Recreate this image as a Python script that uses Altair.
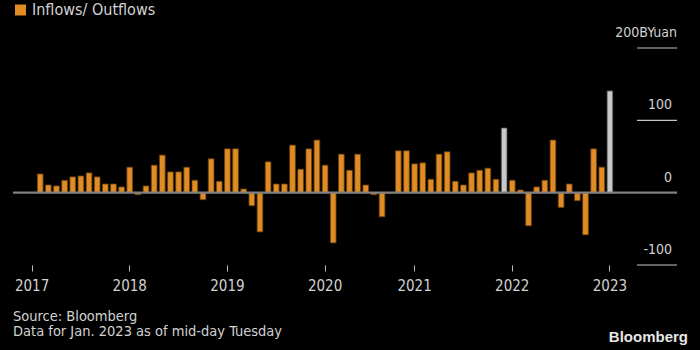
import altair as alt
import pandas as pd

# Monthly categories (Feb 2020 absent in the source series)
months = (
    ["2017-%02d" % m for m in range(1, 13)]
    + ["2018-%02d" % m for m in range(1, 13)]
    + ["2019-%02d" % m for m in range(1, 13)]
    + ["2020-01"] + ["2020-%02d" % m for m in range(3, 13)]
    + ["2021-%02d" % m for m in range(1, 13)]
    + ["2022-%02d" % m for m in range(1, 13)]
    + ["2023-01"]
)

v2017 = [None, 25.9, 10.6, 9.3, 17.1, 21.8, 23.1, 27.3, 21.8, 12.0, 12.0, 7.9]
v2018 = [35.2, -2.8, 9.3, 38.0, 51.9, 28.7, 28.7, 35.2, 17.1, -9.7, 46.8, 15.7]
v2019 = [60.6, 60.6, 5.1, -18.1, -54.2, 42.6, 12.0, 12.0, 65.7, 32.4, 60.6, 72.7]
v2020 = [38.0, -69.4, 53.2, 31.0, 53.2, 10.6, -2.8, -33.3, -1.0, 57.9, 57.9]
v2021 = [39.8, 41.2, 18.5, 53.2, 56.5, 15.7, 10.6, 27.3, 31.0, 33.8, 18.5, 89.4]
v2022 = [17.1, 3.7, -45.8, 7.9, 17.1, 72.7, -20.4, 12.0, -11.1, -58.3, 60.6, 35.2]
v2023 = [140.7]
values = v2017 + v2018 + v2019 + v2020 + v2021 + v2022 + v2023

highlight_months = ["2021-12", "2023-01"]
year_ticks = ["2017-01", "2018-01", "2019-01", "2020-01", "2021-01", "2022-01", "2023-01"]

y_gridlines = [200, 100, -100]
y_labels = ["100", "0", "-100"]
y_label_values = [100, 0, -100]
unit_label = "200BYuan"

legend_text = "Inflows/ Outflows"
source_text = "Source: Bloomberg"
note_text = "Data for Jan. 2023 as of mid-day Tuesday"
brand_text = "Bloomberg"

FONT = "DejaVu Sans Condensed"
TXT = "#d2d2d2"
ORANGE = "#E08C25"

df = pd.DataFrame({
    "month": months,
    "value": values,
    "kind": ["record" if m in highlight_months else "normal" for m in months],
})

x_enc = alt.X(
    "month:N",
    scale=alt.Scale(domain=months, paddingInner=0.3, paddingOuter=0.15),
    axis=alt.Axis(
        values=year_ticks,
        labelExpr="substring(datum.value, 0, 4)",
        title=None,
        domain=False,
        grid=False,
        ticks=True,
        tickSize=6,
        tickWidth=1,
        tickColor="#bdbdbd",
        bandPosition=0.5,
        labelAngle=0,
        labelColor=TXT,
        labelFont=FONT,
        labelFontSize=15,
        labelPadding=7,
    ),
)

bars = alt.Chart(df).mark_bar(strokeWidth=0.8).encode(
    x=x_enc,
    y=alt.Y("value:Q", scale=alt.Scale(domain=[-100, 200], nice=False, zero=False), axis=None),
    color=alt.Color("kind:N", scale=alt.Scale(domain=["normal", "record"], range=[ORANGE, "#C8C8C8"]), legend=None),
    stroke=alt.Stroke("kind:N", scale=alt.Scale(domain=["normal", "record"], range=["#6a3f0e", "#4a4a4a"]), legend=None),
)

zero_df = pd.DataFrame({"v": [0]})
zero_rule = alt.Chart(zero_df).mark_rule(color="#808080", strokeWidth=2.2).encode(
    y="v:Q", x=alt.value(-15), x2=alt.value(649)
)

grid_df = pd.DataFrame({"v": y_gridlines})
grid = alt.Chart(grid_df).mark_rule(color="#c4c4c4", strokeWidth=1.2).encode(
    y="v:Q", x=alt.value(609), x2=alt.value(649)
)

ylab_df = pd.DataFrame({"v": y_label_values, "lab": y_labels})
ylabs = alt.Chart(ylab_df).mark_text(
    align="right", baseline="middle", dy=-15, font=FONT, fontSize=14, color=TXT
).encode(y="v:Q", x=alt.value(644), text="lab:N")

unit_df = pd.DataFrame({"v": [200], "lab": [unit_label]})
unit = alt.Chart(unit_df).mark_text(
    align="right", baseline="middle", dy=-15, font=FONT, fontSize=14, color=TXT
).encode(y="v:Q", x=alt.value(649), text="lab:N")

legend_sq = alt.Chart(pd.DataFrame({"t": [legend_text]})).mark_rect(color=ORANGE).encode(
    x=alt.value(-13), x2=alt.value(-2), y=alt.value(-43.5), y2=alt.value(-32.5)
)
legend_txt = alt.Chart(pd.DataFrame({"t": [legend_text]})).mark_text(
    align="left", baseline="middle", font=FONT, fontSize=16, color=TXT
).encode(x=alt.value(4), y=alt.value(-38), text="t:N")

source = alt.Chart(pd.DataFrame({"t": [source_text]})).mark_text(
    align="left", baseline="middle", font=FONT, fontSize=14.5, color=TXT
).encode(x=alt.value(-15), y=alt.value(268.5), text="t:N")
note = alt.Chart(pd.DataFrame({"t": [note_text]})).mark_text(
    align="left", baseline="middle", font=FONT, fontSize=14.5, color=TXT
).encode(x=alt.value(-15), y=alt.value(283.5), text="t:N")
brand = alt.Chart(pd.DataFrame({"t": [brand_text]})).mark_text(
    align="right", baseline="middle", font="Liberation Sans", fontSize=15, fontWeight="bold",
    color="#e6e6e6"
).encode(x=alt.value(660), y=alt.value(289), text="t:N")

chart = alt.layer(
    bars, zero_rule, grid, ylabs, unit, legend_sq, legend_txt, source, note, brand
).properties(
    width=586,
    height=217,
    autosize=alt.AutoSizeParams(type="none"),
    padding={"left": 28, "top": 48, "right": 86, "bottom": 85},
    background="#000000",
).configure_view(stroke=None)

chart.save("out.html", embed_options={"renderer": "svg", "actions": False})
